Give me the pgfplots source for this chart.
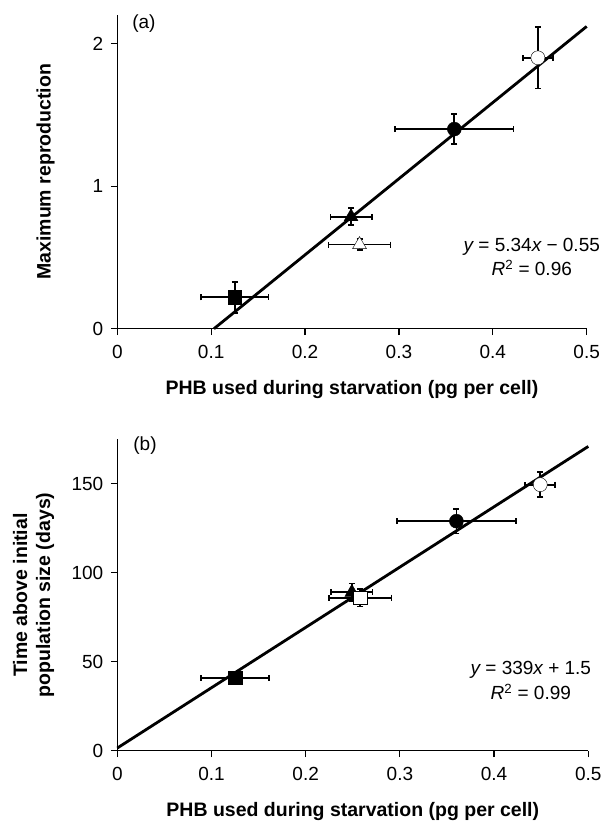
\documentclass[border=0pt]{standalone}
\usepackage{fontspec}
\setmainfont{Liberation Sans}
\usepackage{pgfplots}
\pgfplotsset{compat=1.18}

\pgfplotsset{
  panel/.style={
    scale only axis, axis lines=left, axis line style={-, line width=1.2pt},
    xmin=0, xmax=0.5, xtick={0,0.1,0.2,0.3,0.4,0.5},
    xticklabels={0,0.1,0.2,0.3,0.4,0.5},
    tick align=outside, major tick length=6.5pt, tick style={line width=1.2pt, black},
    /pgf/number format/assume math mode=true,
    ticklabel style={font=\fontsize{19}{22}\selectfont},
    xticklabel style={yshift=-6pt},
    yticklabel style={xshift=-4pt},
    label style={font=\bfseries\fontsize{19.5}{23}\selectfont},
    xlabel={PHB used during starvation (pg per cell)},
    clip=false,
    error bars/error bar style={line width=1.7pt, black},
    error bars/error mark options={rotate=90, line width=1.7pt, mark size=3pt, black},
  },
  ebars/.style={draw=none, mark=none,
    error bars/x dir=both, error bars/x explicit,
    error bars/y dir=both, error bars/y explicit},
  pt/.style={only marks, mark size=#1, mark options={line width=1.2pt, draw=black}},
}

\begin{document}
\begin{tikzpicture}
\useasboundingbox (0pt,0pt) rectangle (608pt,-823pt);

% ---------------- panel (a)
\begin{axis}[panel, at={(117.3pt,-328.7pt)}, anchor=south west,
  width=469.4pt, height=313.7pt,
  ymin=0, ymax=2.2, ytick={0,1,2},
  ylabel={Maximum reproduction},
  xlabel style={at={(axis description cs:0.5,-0.1945)}, anchor=center},
  ylabel style={at={(axis description cs:-0.153,0.5)}, anchor=center},
]
\addplot[ebars] coordinates {
  (0.125,0.22) +- (0.036,0.11)
  (0.249,0.785) +- (0.022,0.06)
  (0.258,0.59) +- (0.033,0.04)
  (0.359,1.40) +- (0.063,0.105)
  (0.448,1.90) +- (0.016,0.215)
};
\addplot[pt=6.8pt, mark=square*, mark options={fill=black}] coordinates {(0.125,0.22)};
\addplot[pt=8pt, mark=triangle*, mark options={fill=black}] coordinates {(0.249,0.785)};
\addplot[pt=8pt, mark=triangle*, mark options={fill=white}] coordinates {(0.258,0.59)};
\addplot[pt=7pt, mark=*, mark options={fill=black}] coordinates {(0.359,1.40)};
\addplot[pt=7pt, mark=*, mark options={fill=white}] coordinates {(0.448,1.90)};
\addplot[line width=2.8pt, no marks, black] coordinates {(0.103,0) (0.5,2.12)};
\node[font=\fontsize{19}{22}\selectfont] at (axis cs:0.0284,2.142) {(a)};
\node[font=\fontsize{19}{22}\selectfont] at (axis cs:0.4415,0.575)
  {\itshape y\upshape{} = 5.34\itshape x\upshape{} − 0.55};
\node[font=\fontsize{19}{22}\selectfont] at (axis cs:0.4415,0.425)
  {\itshape R\upshape\textsuperscript{2} = 0.96};
\end{axis}

% ---------------- panel (b)
\begin{axis}[panel, at={(117.3pt,-750.7pt)}, anchor=south west,
  width=471pt, height=311.4pt,
  ymin=0, ymax=175, ytick={0,50,100,150},
  ylabel={Time above initial\\population size (days)},
  xlabel style={at={(axis description cs:0.5,-0.196)}, anchor=center},
  ylabel style={at={(axis description cs:-0.178,0.5)}, anchor=center, align=center},
]
\addplot[ebars] coordinates {
  (0.125,41) +- (0.036,3)
  (0.249,89) +- (0.022,5)
  (0.258,86) +- (0.033,5)
  (0.36,129) +- (0.063,7)
  (0.449,149.5) +- (0.016,7)
};
\addplot[pt=6.8pt, mark=square*, mark options={fill=black}] coordinates {(0.125,41)};
\addplot[pt=8pt, mark=triangle*, mark options={fill=black}] coordinates {(0.249,89)};
\addplot[pt=6.8pt, mark=square*, mark options={fill=white}] coordinates {(0.258,86)};
\addplot[pt=7pt, mark=*, mark options={fill=black}] coordinates {(0.36,129)};
\addplot[pt=7pt, mark=*, mark options={fill=white}] coordinates {(0.449,149.5)};
\addplot[line width=2.8pt, no marks, black] coordinates {(0,1.5) (0.5,171)};
\node[font=\fontsize{19}{22}\selectfont] at (axis cs:0.0294,171.4) {(b)};
\node[font=\fontsize{19}{22}\selectfont] at (axis cs:0.439,45.2)
  {\itshape y\upshape{} = 339\itshape x\upshape{} + 1.5};
\node[font=\fontsize{19}{22}\selectfont] at (axis cs:0.439,33.1)
  {\itshape R\upshape\textsuperscript{2} = 0.99};
\end{axis}
\end{tikzpicture}
\end{document}
